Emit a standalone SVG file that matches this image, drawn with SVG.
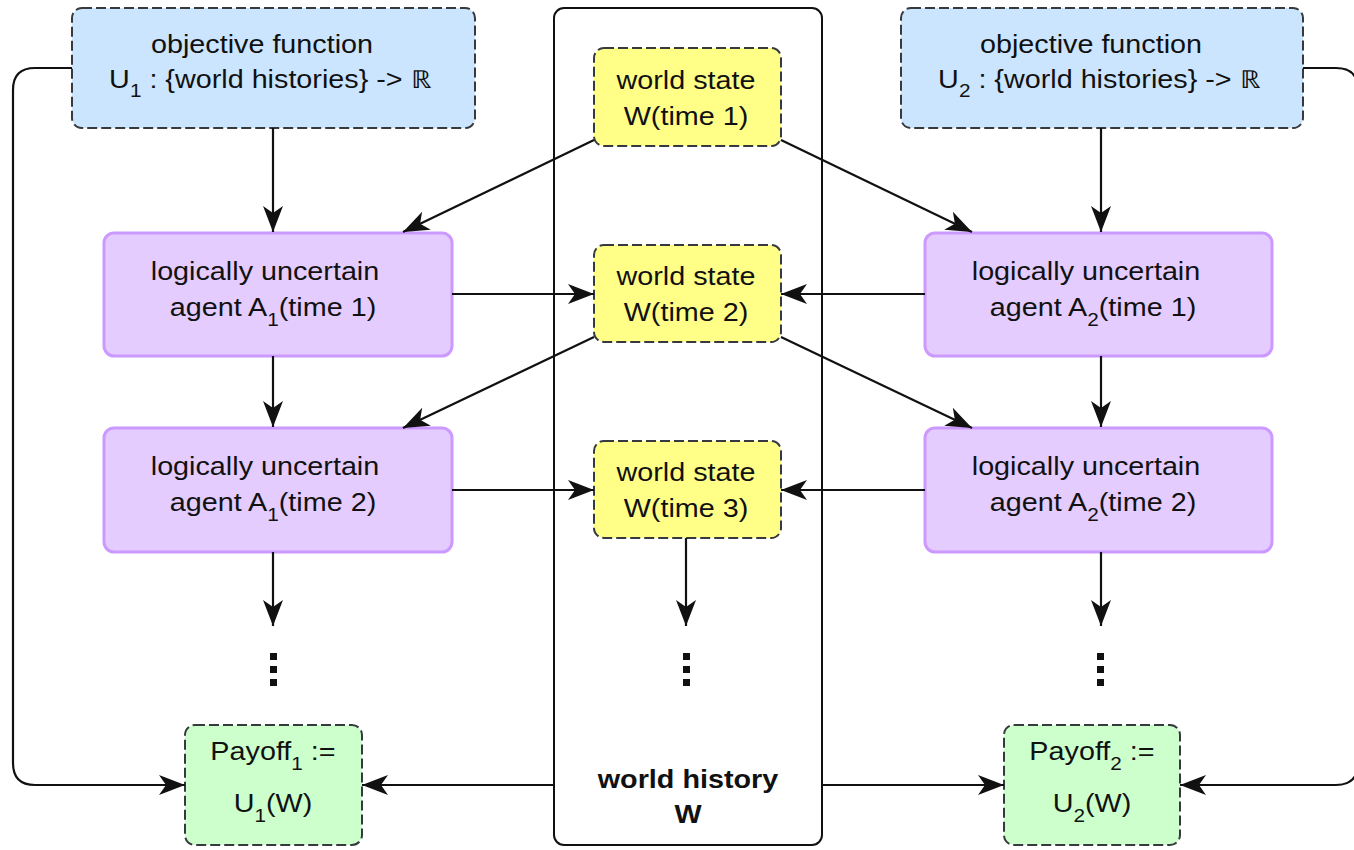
<svg xmlns="http://www.w3.org/2000/svg" width="1354" height="850" viewBox="0 0 1354 850">
<style>
  text { font-family: "Liberation Sans", Arial, sans-serif; font-size: 25px; fill: #111; text-anchor: middle; }
  .sub { font-size: 18px; }
  .bold { font-weight: bold; }
  .obj { fill: #cce5ff; stroke: #36393d; stroke-width: 2; stroke-dasharray: 10 4; }
  .ws { fill: #ffff88; stroke: #36393d; stroke-width: 2; stroke-dasharray: 10 4; }
  .pay { fill: #ccffcc; stroke: #36393d; stroke-width: 2; stroke-dasharray: 10 4; }
  .agent { fill: #e5ccff; stroke: #cc99ff; stroke-width: 3; }
  .hist { fill: #ffffff; stroke: #111; stroke-width: 2; }
  .conn path { fill: none; stroke: #111; stroke-width: 2.2; }
  .dot { fill: #111; }
</style>
<defs>
  <marker id="arr" markerUnits="userSpaceOnUse" markerWidth="28" markerHeight="24" refX="27" refY="12" orient="auto">
    <path d="M1,2 L27,12 L1,22 L8,12 Z" fill="#111"/>
  </marker>
</defs>

<g id="world-history">
  <rect class="hist" x="554" y="8" width="268" height="837" rx="10"/>
  <text class="bold" transform="matrix(1.15 0 0 1 688 0)" y="788">world history</text>
  <text class="bold" transform="matrix(1.15 0 0 1 688 0)" y="823">W</text>
</g>

<g id="obj1">
  <rect class="obj" x="72" y="8" width="403" height="120" rx="10"/>
  <text transform="matrix(1.15 0 0 1 262 0)" y="53">objective function</text>
  <text transform="matrix(1.15 0 0 1 270 0)" y="88">U<tspan class="sub" dy="9">1</tspan><tspan dy="-9"> : {world histories} -&gt; ℝ</tspan></text>
</g>

<g id="obj2">
  <rect class="obj" x="901" y="8" width="402" height="120" rx="10"/>
  <text transform="matrix(1.15 0 0 1 1091 0)" y="53">objective function</text>
  <text transform="matrix(1.15 0 0 1 1099 0)" y="88">U<tspan class="sub" dy="9">2</tspan><tspan dy="-9"> : {world histories} -&gt; ℝ</tspan></text>
</g>

<g id="ws1">
  <rect class="ws" x="594" y="48" width="187" height="98" rx="10"/>
  <text transform="matrix(1.15 0 0 1 686 0)" y="89">world state</text>
  <text transform="matrix(1.15 0 0 1 686 0)" y="125">W(time 1)</text>
</g>
<g id="ws2">
  <rect class="ws" x="594" y="245" width="187" height="97" rx="10"/>
  <text transform="matrix(1.15 0 0 1 686 0)" y="285">world state</text>
  <text transform="matrix(1.15 0 0 1 686 0)" y="321">W(time 2)</text>
</g>
<g id="ws3">
  <rect class="ws" x="594" y="441" width="187" height="97" rx="10"/>
  <text transform="matrix(1.15 0 0 1 686 0)" y="481">world state</text>
  <text transform="matrix(1.15 0 0 1 686 0)" y="517">W(time 3)</text>
</g>

<g id="a1t1">
  <rect class="agent" x="104" y="233" width="348" height="123" rx="10"/>
  <text transform="matrix(1.15 0 0 1 265 0)" y="280">logically uncertain</text>
  <text transform="matrix(1.15 0 0 1 273 0)" y="316">agent A<tspan class="sub" dy="10">1</tspan><tspan dy="-10">(time 1)</tspan></text>
</g>
<g id="a1t2">
  <rect class="agent" x="104" y="428" width="348" height="124" rx="10"/>
  <text transform="matrix(1.15 0 0 1 265 0)" y="475">logically uncertain</text>
  <text transform="matrix(1.15 0 0 1 273 0)" y="511">agent A<tspan class="sub" dy="10">1</tspan><tspan dy="-10">(time 2)</tspan></text>
</g>
<g id="a2t1">
  <rect class="agent" x="925" y="233" width="347" height="123" rx="10"/>
  <text transform="matrix(1.15 0 0 1 1086 0)" y="280">logically uncertain</text>
  <text transform="matrix(1.15 0 0 1 1093 0)" y="316">agent A<tspan class="sub" dy="10">2</tspan><tspan dy="-10">(time 1)</tspan></text>
</g>
<g id="a2t2">
  <rect class="agent" x="925" y="428" width="347" height="124" rx="10"/>
  <text transform="matrix(1.15 0 0 1 1086 0)" y="475">logically uncertain</text>
  <text transform="matrix(1.15 0 0 1 1093 0)" y="511">agent A<tspan class="sub" dy="10">2</tspan><tspan dy="-10">(time 2)</tspan></text>
</g>

<g id="pay1">
  <rect class="pay" x="185" y="725" width="177" height="120" rx="10"/>
  <text transform="matrix(1.15 0 0 1 273 0)" y="760">Payoff<tspan class="sub" dy="10">1</tspan><tspan dy="-10"> :=</tspan></text>
  <text transform="matrix(1.15 0 0 1 273 0)" y="812">U<tspan class="sub" dy="10">1</tspan><tspan dy="-10">(W)</tspan></text>
</g>
<g id="pay2">
  <rect class="pay" x="1004" y="725" width="176" height="120" rx="10"/>
  <text transform="matrix(1.15 0 0 1 1092 0)" y="760">Payoff<tspan class="sub" dy="10">2</tspan><tspan dy="-10"> :=</tspan></text>
  <text transform="matrix(1.15 0 0 1 1092 0)" y="812">U<tspan class="sub" dy="10">2</tspan><tspan dy="-10">(W)</tspan></text>
</g>

<g id="dots">
  <rect class="dot" x="270" y="653" width="7" height="7"/>
  <rect class="dot" x="270" y="666" width="7" height="7"/>
  <rect class="dot" x="270" y="679" width="7" height="7"/>
  <rect class="dot" x="683" y="653" width="7" height="7"/>
  <rect class="dot" x="683" y="666" width="7" height="7"/>
  <rect class="dot" x="683" y="679" width="7" height="7"/>
  <rect class="dot" x="1097" y="653" width="7" height="7"/>
  <rect class="dot" x="1097" y="666" width="7" height="7"/>
  <rect class="dot" x="1097" y="679" width="7" height="7"/>
</g>

<g id="connectors" class="conn">
  <path d="M273,128 V232" marker-end="url(#arr)"/>
  <path d="M1101,128 V232" marker-end="url(#arr)"/>
  <path d="M273,356 V427" marker-end="url(#arr)"/>
  <path d="M1101,356 V427" marker-end="url(#arr)"/>
  <path d="M273,552 V626" marker-end="url(#arr)"/>
  <path d="M1101,552 V626" marker-end="url(#arr)"/>
  <path d="M686,538 V626" marker-end="url(#arr)"/>
  <path d="M594,140 L403,232" marker-end="url(#arr)"/>
  <path d="M781,140 L972,232" marker-end="url(#arr)"/>
  <path d="M594,337 L403,428" marker-end="url(#arr)"/>
  <path d="M781,337 L972,428" marker-end="url(#arr)"/>
  <path d="M452,294 H594" marker-end="url(#arr)"/>
  <path d="M925,294 H781" marker-end="url(#arr)"/>
  <path d="M452,490 H594" marker-end="url(#arr)"/>
  <path d="M925,490 H781" marker-end="url(#arr)"/>
  <path d="M72,68 H35 Q13,68 13,90 V763 Q13,785 35,785 H185" marker-end="url(#arr)"/>
  <path d="M1303,68 H1336 Q1358,68 1358,90 V763 Q1358,785 1336,785 H1180" marker-end="url(#arr)"/>
  <path d="M554,785 H362" marker-end="url(#arr)"/>
  <path d="M822,785 H1004" marker-end="url(#arr)"/>
</g>
</svg>
